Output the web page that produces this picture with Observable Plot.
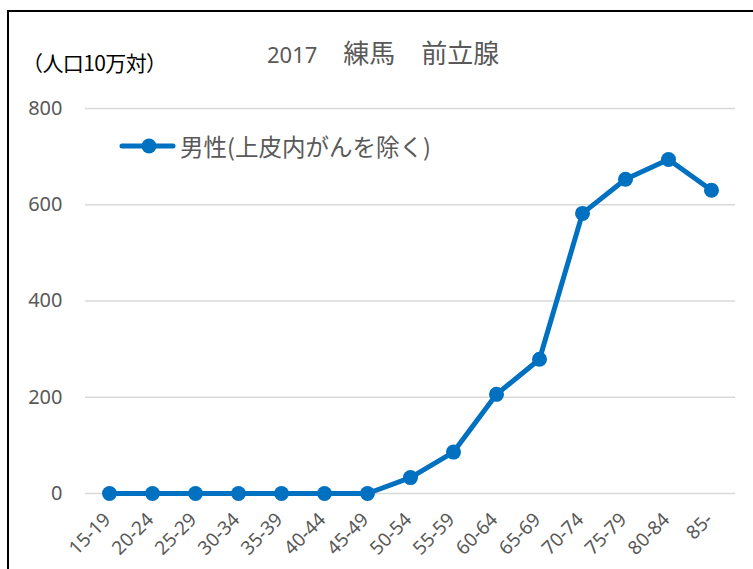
<!DOCTYPE html>
<html><head><meta charset="utf-8">
<script src="https://cdn.jsdelivr.net/npm/d3@7"></script>
<script src="https://cdn.jsdelivr.net/npm/@observablehq/plot@0.6"></script>
<style>
html,body{margin:0;padding:0;background:#fff;}
#wrap{position:relative;width:753px;height:569px;overflow:hidden;font-family:"Noto Sans","Noto Sans CJK JP",sans-serif;}
#frame{position:absolute;left:7px;top:10px;width:800px;height:700px;border:2px solid #000;box-sizing:border-box;}
#title{position:absolute;left:267px;top:34px;white-space:nowrap;font-size:26px;line-height:36px;color:#595959;font-family:"Noto Sans CJK JP",sans-serif;}
#title .num{font-family:"Noto Sans",sans-serif;font-size:22px;}
#unit{position:absolute;left:22px;top:48px;font-size:21px;line-height:28px;color:#000;font-family:"Noto Sans CJK JP",sans-serif;letter-spacing:-0.6px;white-space:nowrap;}
#legend{position:absolute;left:118px;top:131px;height:30px;display:flex;align-items:center;font-size:23.5px;color:#595959;font-family:"Noto Sans CJK JP",sans-serif;white-space:nowrap;}
#chart{position:absolute;left:0;top:0;}
</style></head>
<body>
<div id="wrap">
  <div id="chart"></div>
  <div id="frame"></div>
  <div id="title"></div>
  <div id="unit"></div>
  <div id="legend"></div>
</div>
<script>
const titleYear = "2017";
const titleRest = "\u3000練馬\u3000前立腺";
const unitText = "（人口10万対）";
const seriesName = "男性(上皮内がんを除く)";
const ageGroups = ["15-19","20-24","25-29","30-34","35-39","40-44","45-49","50-54","55-59","60-64","65-69","70-74","75-79","80-84","85-"];
const rates = [0,0,0,0,0,0,0,33,86,206,279,582,653,694,630];
const yTicks = [0,200,400,600,800];
const lineColor = "#0070C0";

const data = ageGroups.map((a,i)=>({age:a, rate:rates[i]}));

const t = document.getElementById("title");
const ns = document.createElement("span"); ns.className = "num"; ns.textContent = titleYear;
t.appendChild(ns);
t.appendChild(document.createTextNode(titleRest));
document.getElementById("unit").textContent = unitText;
const leg = document.getElementById("legend");
leg.innerHTML = `<svg width="60" height="24"><line x1="4" y1="12" x2="55" y2="12" stroke="${lineColor}" stroke-width="5" stroke-linecap="round"/><circle cx="31" cy="12" r="7.5" fill="${lineColor}"/></svg><span style="margin-left:2px">${seriesName}</span>`;

const chart = Plot.plot({
  width: 753,
  height: 569,
  marginLeft: 85,
  marginRight: 18,
  marginTop: 108,
  marginBottom: 76,
  style: {fontFamily: "'Noto Sans', sans-serif", background: "transparent"},
  x: {type: "point", domain: ageGroups, padding: 0.5, label: null},
  y: {domain: [0,800], label: null},
  marks: [
    Plot.gridY(yTicks, {stroke: "#d9d9d9", strokeOpacity: 1, strokeWidth: 1.5}),
    Plot.axisY(yTicks, {tickSize: 0, tickPadding: 23, fontSize: 20, fill: "#595959", label: null}),
    Plot.axisX({tickSize: 0, tickPadding: 23, dx: -2, tickRotate: -45, fontSize: 19, fill: "#595959", label: null}),
    Plot.line(data, {x: "age", y: "rate", stroke: lineColor, strokeWidth: 5}),
    Plot.dot(data, {x: "age", y: "rate", r: 7.5, fill: lineColor})
  ]
});
document.getElementById("chart").appendChild(chart);
</script>
</body></html>
